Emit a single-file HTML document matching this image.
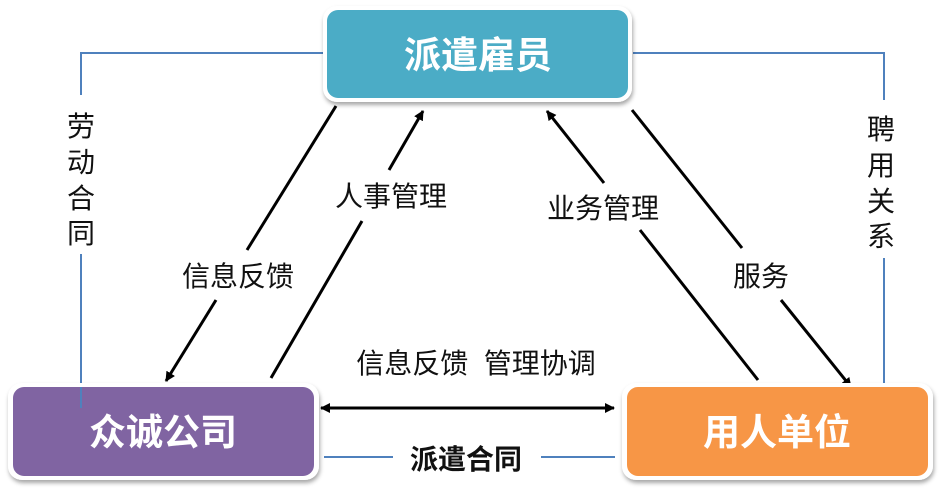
<!DOCTYPE html>
<html><head><meta charset="utf-8"><style>
body{margin:0;background:#fff;width:942px;height:493px;overflow:hidden}
svg text{font-family:"Liberation Sans","Noto Sans CJK SC",sans-serif}
</style></head><body>
<svg width="942" height="493" viewBox="0 0 942 493" xmlns="http://www.w3.org/2000/svg">
<defs>
<marker id="ah" markerWidth="10" markerHeight="10" refX="9" refY="5" orient="auto" markerUnits="userSpaceOnUse" viewBox="0 0 10 10">
<path d="M0,0 L10,5 L0,10 z" fill="#000"/></marker>
<filter id="sh" x="-10%" y="-20%" width="120%" height="150%"><feDropShadow dx="1" dy="3" stdDeviation="2" flood-color="#000" flood-opacity="0.35"/></filter>
</defs>
<g stroke="#4F81BD" stroke-width="2" fill="none">
<polyline points="323,53 81,53 81,95"/>
<line x1="81" y1="254" x2="81" y2="408"/>
<polyline points="633,53 884,53 884,100"/>
<line x1="884" y1="258" x2="884" y2="383"/>
<line x1="324" y1="457" x2="393" y2="457"/>
<line x1="541" y1="457" x2="615" y2="457"/>
</g>
<g stroke="#000" stroke-width="3" fill="none">
<line x1="336" y1="106" x2="247" y2="250"/>
<line x1="216" y1="300" x2="166" y2="381" marker-end="url(#ah)"/>
<line x1="271" y1="378" x2="362" y2="221"/>
<line x1="389" y1="170" x2="423" y2="111" marker-end="url(#ah)"/>
<line x1="758" y1="380" x2="640" y2="230"/>
<line x1="604" y1="183" x2="547" y2="111" marker-end="url(#ah)"/>
<line x1="632" y1="110" x2="742" y2="248"/>
<line x1="781" y1="300" x2="851" y2="387" marker-end="url(#ah)"/>
<line x1="330" y1="408" x2="614" y2="408" marker-end="url(#ah)"/>
<line x1="605" y1="408" x2="321" y2="408" marker-end="url(#ah)"/>
</g>
<rect x="323" y="6" width="309" height="96" rx="14" fill="#fff" filter="url(#sh)"/>
<rect x="327" y="10" width="301" height="88" rx="11" fill="#4BACC6"/>
<rect x="8" y="383" width="311" height="97" rx="14" fill="#fff" filter="url(#sh)"/>
<rect x="13" y="387" width="301" height="89" rx="11" fill="#8064A2"/>
<rect x="622" y="383" width="311" height="97" rx="14" fill="#fff" filter="url(#sh)"/>
<rect x="627" y="387" width="301" height="89" rx="11" fill="#F79646"/>
<line x1="81" y1="387" x2="81" y2="408" stroke="#4F81BD" stroke-width="2"/>
<g fill="#fff" font-weight="bold" font-size="37" text-anchor="middle">
<text x="478" y="68">派遣雇员</text>
<text x="163" y="445">众诚公司</text>
<text x="777" y="445">用人单位</text>
</g>
<g font-size="28" fill="#111" text-anchor="middle">
<text x="238" y="286">信息反馈</text>
<text x="391" y="206">人事管理</text>
<text x="603" y="218">业务管理</text>
<text x="761" y="286">服务</text>
<text x="476" y="373" xml:space="preserve">信息反馈  管理协调</text>
<text x="466" y="469" font-weight="bold">派遣合同</text>
<text x="81" y="136">劳</text><text x="81" y="172">动</text><text x="81" y="208">合</text><text x="81" y="243">同</text>
<text x="881" y="139">聘</text><text x="881" y="175">用</text><text x="881" y="211">关</text><text x="881" y="246">系</text>
</g>
</svg>
</body></html>
